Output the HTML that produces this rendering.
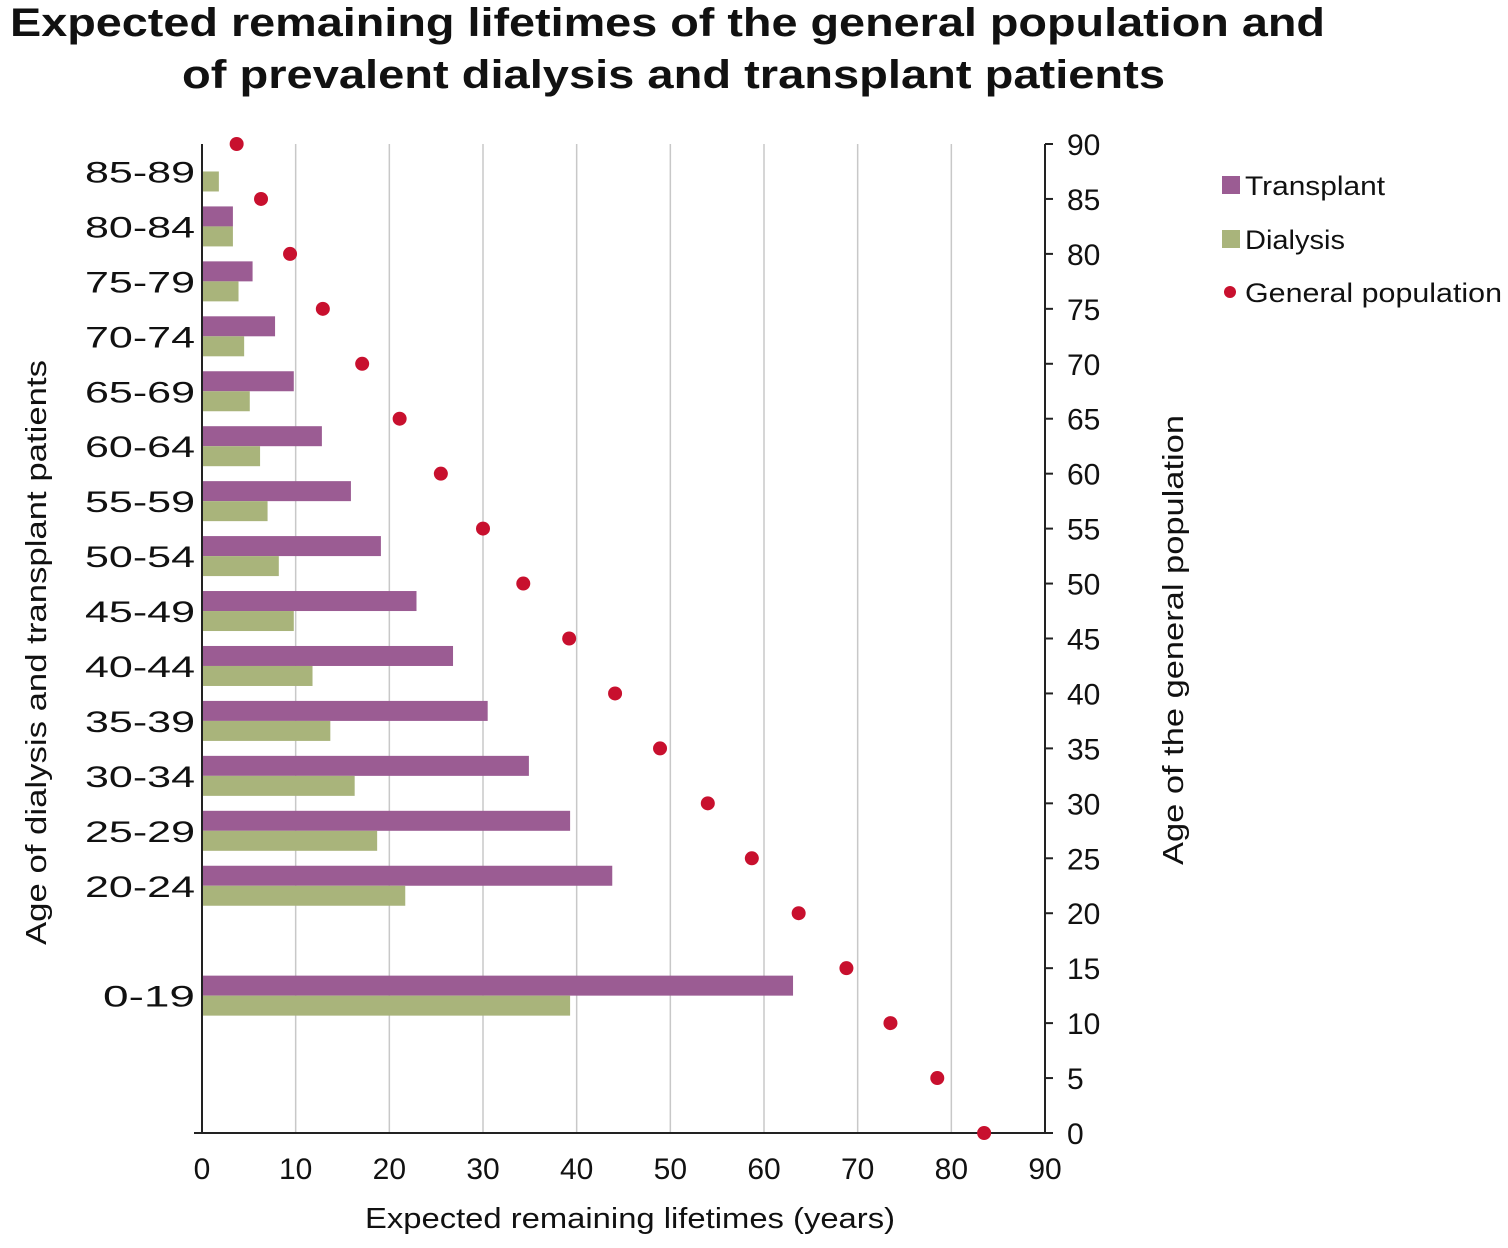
<!DOCTYPE html>
<html><head><meta charset="utf-8"><style>
body{margin:0;background:#fff;}
svg text{font-family:"Liberation Sans",sans-serif;}
</style></head><body>
<svg width="1508" height="1243" viewBox="0 0 1508 1243">
<text x="10" y="36" font-size="40" font-weight="bold" fill="#111" textLength="1315" lengthAdjust="spacingAndGlyphs">Expected remaining lifetimes of the general population and</text>
<text x="182" y="88" font-size="40" font-weight="bold" fill="#111" textLength="983" lengthAdjust="spacingAndGlyphs">of prevalent dialysis and transplant patients</text>
<g id="plot"></g>
<text x="365" y="1228" font-size="29" fill="#111" textLength="530" lengthAdjust="spacingAndGlyphs">Expected remaining lifetimes (years)</text>
<text transform="translate(46,945) rotate(-90)" font-size="29" fill="#111" textLength="585" lengthAdjust="spacingAndGlyphs">Age of dialysis  and transplant patients</text>
<text transform="translate(1183,865) rotate(-90)" font-size="29" fill="#111" textLength="450" lengthAdjust="spacingAndGlyphs">Age of the general population</text>
<g>
<rect x="1222" y="176" width="18" height="18" fill="#9b5c93"/>
<text x="1245" y="195" font-size="27" fill="#111" textLength="140" lengthAdjust="spacingAndGlyphs">Transplant</text>
<rect x="1222" y="230" width="18" height="18" fill="#a9b47b"/>
<text x="1245" y="249" font-size="27" fill="#111" textLength="100" lengthAdjust="spacingAndGlyphs">Dialysis</text>
<circle cx="1230" cy="292" r="6" fill="#c8102e"/>
<text x="1245" y="302" font-size="27" fill="#111" textLength="257" lengthAdjust="spacingAndGlyphs">General population</text>
</g>
</svg>
<script>
const categories=["85-89","80-84","75-79","70-74","65-69","60-64","55-59","50-54","45-49","40-44","35-39","30-34","25-29","20-24","0-19"];
const categoryAge=[87.5,82.5,77.5,72.5,67.5,62.5,57.5,52.5,47.5,42.5,37.5,32.5,27.5,22.5,12.5];
const transplant=[0,3.3,5.4,7.8,9.8,12.8,15.9,19.1,22.9,26.8,30.5,34.9,39.3,43.8,63.1];
const dialysis=[1.8,3.3,3.9,4.5,5.1,6.2,7.0,8.2,9.8,11.8,13.7,16.3,18.7,21.7,39.3];
const genAges=[90,85,80,75,70,65,60,55,50,45,40,35,30,25,20,15,10,5,0];
const genLife=[3.7,6.3,9.4,12.9,17.1,21.1,25.5,30.0,34.3,39.2,44.1,48.9,54.0,58.7,63.7,68.8,73.5,78.5,83.5];
const xTicks=[0,10,20,30,40,50,60,70,80,90];
const yTicks=[0,5,10,15,20,25,30,35,40,45,50,55,60,65,70,75,80,85,90];

const X0=202,X1=1045,Y0=1133,Y1=144;
const xs=v=>X0+(X1-X0)*v/90;
const ys=v=>Y0-(Y0-Y1)*v/90;
const NS="http://www.w3.org/2000/svg";
const g=document.getElementById('plot');
function mk(t,a){const e=document.createElementNS(NS,t);for(const k in a)e.setAttribute(k,a[k]);g.appendChild(e);return e;}
xTicks.forEach(t=>{
 if(t>0){const l=mk('line',{x1:xs(t),x2:xs(t),y1:Y1,y2:Y0,stroke:'#c8c8c8','stroke-width':1.5});
 
 }
 const tx=mk('text',{x:xs(t),y:Y0+46,'text-anchor':'middle','font-size':30,fill:'#111'});tx.textContent=t;
 
 
});
categories.forEach((c,i)=>{
 const cy=ys(categoryAge[i]);
 if(transplant[i]>0){const r=mk('rect',{x:X0,y:cy-20,width:xs(transplant[i])-X0,height:20,fill:'#9b5c93'});
 
 }
 const d=mk('rect',{x:X0,y:cy,width:xs(dialysis[i])-X0,height:20,fill:'#a9b47b'});
 
 
 const w=c.length===5?110:92;
 const tx=mk('text',{x:195-w,y:cy+11,'font-size':30,fill:'#111',textLength:w,lengthAdjust:'spacingAndGlyphs'});tx.textContent=c;
 
 
});
const la=mk('line',{x1:X0,x2:X0,y1:Y1,y2:Y0,stroke:'#222','stroke-width':2});


const xa=mk('line',{x1:X0-8,x2:X1,y1:Y0,y2:Y0,stroke:'#222','stroke-width':2});


const ra=mk('line',{x1:X1,x2:X1,y1:Y1,y2:Y0,stroke:'#222','stroke-width':2});


yTicks.forEach(t=>{
 mk('line',{x1:X1,x2:X1+8,y1:ys(t),y2:ys(t),stroke:'#222','stroke-width':2});
 const tx=mk('text',{x:X1+22,y:ys(t)+11,'font-size':30,fill:'#111'});tx.textContent=t;
 
 
});
genAges.forEach((a,i)=>{
 const c=mk('circle',{cx:xs(genLife[i]),cy:ys(a),r:7,fill:'#c8102e'});
 
 
});
</script>
</body></html>
